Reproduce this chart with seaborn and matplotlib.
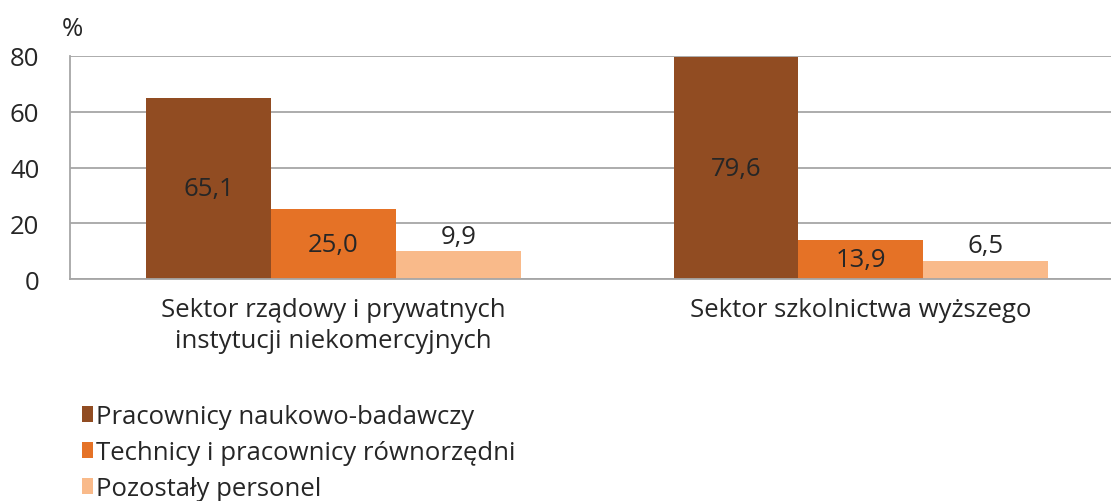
import pandas as pd
import matplotlib
matplotlib.use("Agg")
import matplotlib.pyplot as plt
import seaborn as sns
from matplotlib.patches import Patch

# Dane
sektory = ["Sektor rządowy i prywatnych\ninstytucji niekomercyjnych",
           "Sektor szkolnictwa wyższego"]
grupy = ["Pracownicy naukowo-badawczy",
         "Technicy i pracownicy równorzędni",
         "Pozostały personel"]
naukowi = [65.1, 79.6]
technicy = [25.0, 13.9]
pozostali = [9.9, 6.5]
kolory = ["#914C22", "#E57226", "#F9BA8A"]

df = pd.DataFrame({
    "Sektor": sektory * 3,
    "Grupa": [g for g in grupy for _ in sektory],
    "Wartosc": naukowi + technicy + pozostali,
})

sns.set_style("white")
plt.rcParams["font.family"] = ["Open Sans", "DejaVu Sans"]
fs = 18.5

fig = plt.figure(figsize=(11.11, 5.02), dpi=100)
ax = fig.add_axes([70 / 1111, 222 / 502, 1041 / 1111, 223 / 502])

sns.barplot(data=df, x="Sektor", y="Wartosc", hue="Grupa", order=sektory,
            hue_order=grupy, palette=kolory, width=0.71, gap=0,
            saturation=1, linewidth=0, ax=ax, legend=False)

# Etykiety danych
for i, cont in enumerate(ax.containers):
    etykiety = [f"{v:.1f}".replace(".", ",") for v in cont.datavalues]
    if i < 2:
        ax.bar_label(cont, labels=etykiety, label_type="center", fontsize=fs)
    else:
        ax.bar_label(cont, labels=etykiety, label_type="edge", padding=2, fontsize=fs)

ax.set_xlim(-0.5, 1.475)
ax.set_ylim(0, 80)
ax.set_yticks([0, 20, 40, 60, 80])
ax.yaxis.grid(True, color="#A6A6A6", linewidth=1.3)
ax.set_axisbelow(True)
ax.set_xlabel("")
ax.set_ylabel("")

for s in ["top", "right"]:
    ax.spines[s].set_visible(False)
for s in ["left", "bottom"]:
    ax.spines[s].set_color("#A6A6A6")
    ax.spines[s].set_linewidth(1.3)

ax.tick_params(axis="y", length=7, color="#A6A6A6", width=1.3, labelsize=fs, pad=15)
ax.set_xticks(range(len(sektory)), labels=sektory, linespacing=1.3)
ax.tick_params(axis="x", length=0, labelsize=fs, pad=13)
ax.set_xticks([0.5], minor=True)
ax.tick_params(axis="x", which="minor", length=5, color="#A6A6A6", width=1.3)

fig.text(62 / 1111, 1 - 30 / 502, "%", fontsize=fs, va="center")

uchwyty = [Patch(facecolor=k, edgecolor="none") for k in kolory]
fig.legend(uchwyty, grupy, loc="upper left", bbox_to_anchor=(72 / 1111, 1 - 395 / 502),
           frameon=False, fontsize=fs, handlelength=0.42, handleheight=0.6,
           handletextpad=0.12, labelspacing=0.43, borderaxespad=0)

plt.savefig("out.png", dpi=100)
